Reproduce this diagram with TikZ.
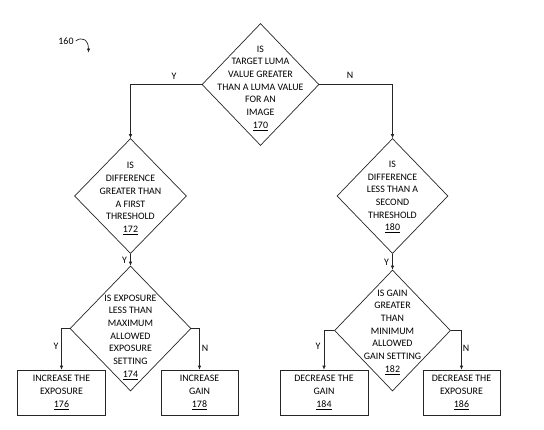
\documentclass[tikz,border=0pt]{standalone}
\usepackage{fontspec}
\setmainfont{Carlito}
\usetikzlibrary{shapes.geometric,arrows.meta}
\begin{document}
\begin{tikzpicture}[x=1pt,y=-1pt,
  line/.style={draw=black!85, line width=0.7pt},
  arr/.style={line, -{Latex[length=4pt,width=3.6pt]}},
  dia/.style={draw=black!85, line width=0.7pt, shape=diamond, inner sep=0pt},
  boxn/.style={draw=black!85, line width=0.7pt, rectangle, inner sep=0pt},
  txt/.style={align=center, inner sep=0pt, font=\fontsize{9.9}{12.7}\selectfont},
  lbl/.style={inner sep=0pt, font=\fontsize{9.9}{12}\selectfont}]
\useasboundingbox (0,0) rectangle (544,429);
% diamonds
\node[dia, minimum width=117pt, minimum height=122pt] (d170) at (260.5,84.5) {};
\node[txt] (t170) at (260.5,88) {IS\\TARGET LUMA\\VALUE GREATER\\THAN A LUMA VALUE\\FOR AN\\IMAGE\\\underline{170}};
\node[dia, minimum width=112pt, minimum height=115pt] (d172) at (130.5,196) {};
\node[txt] (t172) at (130.5,198.5) {IS\\DIFFERENCE\\GREATER THAN\\A FIRST\\THRESHOLD\\\underline{172}};
\node[dia, minimum width=111pt, minimum height=115pt] (d180) at (392.5,196) {};
\node[txt] (t180) at (392.5,197) {IS\\DIFFERENCE\\LESS THAN A\\SECOND\\THRESHOLD\\\underline{180}};
\node[dia, minimum width=121pt, minimum height=125pt] (d174) at (130.5,328.5) {};
\node[txt] (t174) at (130.5,337) {IS EXPOSURE\\LESS THAN\\MAXIMUM\\ALLOWED\\EXPOSURE\\SETTING\\\underline{174}};
\node[dia, minimum width=116pt, minimum height=121pt] (d182) at (392.5,330.5) {};
\node[txt] (t182) at (392.5,332) {IS GAIN\\GREATER\\THAN\\MINIMUM\\ALLOWED\\GAIN SETTING\\\underline{182}};
% boxes
\node[boxn, minimum width=88pt, minimum height=45pt] (b176) at (61.5,392.5) {};
\node[txt] at (b176) {INCREASE THE\\EXPOSURE\\\underline{176}};
\node[boxn, minimum width=77pt, minimum height=45pt] (b178) at (199.5,392.5) {};
\node[txt] at (b178) {INCREASE\\GAIN\\\underline{178}};
\node[boxn, minimum width=88pt, minimum height=45pt] (b184) at (324,392.5) {};
\node[txt] at (b184) {DECREASE THE\\GAIN\\\underline{184}};
\node[boxn, minimum width=77pt, minimum height=45pt] (b186) at (461.5,392.5) {};
\node[txt] at (b186) {DECREASE THE\\EXPOSURE\\\underline{186}};
% connectors
\draw[arr] (d170.west) -| (d172.north);
\draw[arr] (d170.east) -| (d180.north);
\draw[arr] (d172.south) -- (d174.north);
\draw[arr] (d180.south) -- (d182.north);
\draw[arr] (d174.west) -| (b176.north);
\draw[arr] (d174.east) -| (b178.north);
\draw[arr] (d182.west) -| (b184.north);
\draw[arr] (d182.east) -| (b186.north);
% labels
\node[lbl] (ly1) at (174,76) {Y};
\node[lbl] (ln1) at (350,75) {N};
\node[lbl] (ly2) at (124.5,260) {Y};
\node[lbl] (ly3) at (386.5,262) {Y};
\node[lbl] (ly4) at (56,346) {Y};
\node[lbl] (ln4) at (205,348) {N};
\node[lbl] (ly5) at (318,346) {Y};
\node[lbl] (ln5) at (466,348) {N};
% reference numeral
\node[lbl] (l160) at (66,41) {160};
\coordinate (a160) at (88.5,52.5);
\draw[line, -{Latex[length=4pt,width=3.6pt]}] (l160.east) ++(2,0) .. controls (82,36) and (88.5,40) .. (a160);
\end{tikzpicture}
\end{document}
